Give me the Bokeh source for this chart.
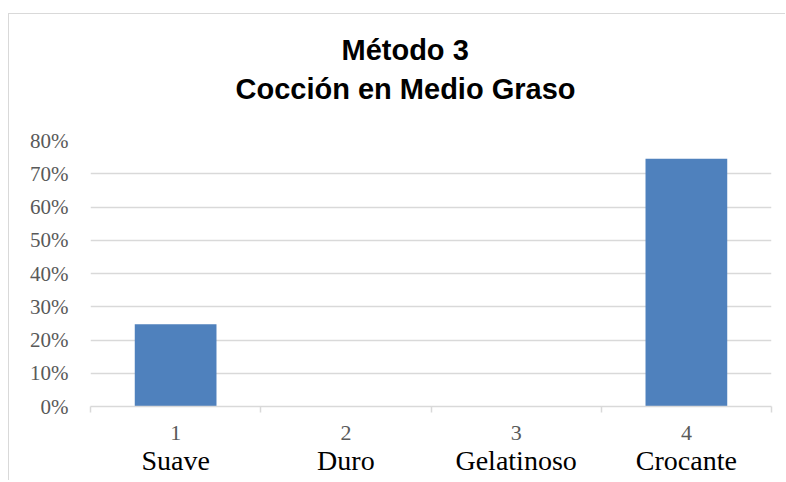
from bokeh.plotting import figure
from bokeh.models import Range1d, FixedTicker, LinearAxis, NumeralTickFormatter, Title, CustomJSTickFormatter
from bokeh.embed import file_html
from bokeh.resources import INLINE

# ---- data ----
codes = ["1", "2", "3", "4"]
names = ["Suave", "Duro", "Gelatinoso", "Crocante"]
values = [0.247, 0.0, 0.0, 0.745]
y_ticks = [0.0, 0.1, 0.2, 0.3, 0.4, 0.5, 0.6, 0.7, 0.8]
title_lines = ["Método 3", "Cocción en Medio Graso"]

BAR = "#4F81BD"
GRID = "#d9d9d9"
GREY = "#595959"
SERIF = "Liberation Serif"
SANS = "Liberation Sans"

n = len(codes)
centers = [i + 0.5 for i in range(n)]
bounds = [float(i) for i in range(n + 1)]

p = figure(width=777, height=467,
           x_range=Range1d(0, n), y_range=Range1d(y_ticks[0], y_ticks[-1]),
           output_backend="svg", toolbar_location=None,
           title=title_lines[0],
           min_border_left=81, min_border_right=15,
           min_border_top=126, min_border_bottom=75)
p.styles = {"border-left": "1px solid #d9d9d9", "border-top": "1px solid #d9d9d9",
            "margin-top": "13px", "margin-left": "8px"}
p.outline_line_color = None
p.background_fill_color = "white"
p.border_fill_color = "white"

# spacer between frame and title block
spacer = Title(text=" ", text_font_size="1px", standoff=31, text_color="white")
p.add_layout(spacer, "above")

# title (two lines)
p.title.text_font = SANS
p.title.text_font_style = "bold"
p.title.text_font_size = "29px"
p.title.text_color = "black"
p.title.align = "left"
p.title.offset = 251
p.title.standoff = 6
t2 = Title(text=title_lines[1], text_font=SANS, text_font_style="bold",
           text_font_size="29px", text_color="black", align="left", offset=145,
           standoff=4)
p.add_layout(t2, "above")

# bars
p.vbar(x=centers, top=values, width=0.48, fill_color=BAR, line_color=None)

# y axis
ya = p.yaxis[0]
ya.ticker = FixedTicker(ticks=y_ticks)
ya.formatter = NumeralTickFormatter(format="0%")
ya.axis_line_color = None
ya.major_tick_line_color = None
ya.minor_tick_line_color = None
ya.major_tick_out = 0
ya.major_tick_in = 0
ya.major_label_standoff = 22
ya.major_label_text_font = SERIF
ya.major_label_text_font_size = "21px"
ya.major_label_text_color = GREY

p.ygrid.grid_line_color = GRID
p.ygrid.grid_line_width = 1.5
p.xgrid.visible = False

# main x axis (category boundaries)
xa = p.xaxis[0]
xa.ticker = FixedTicker(ticks=bounds)
xa.formatter = CustomJSTickFormatter(code="return ''")
xa.axis_line_color = GRID
xa.axis_line_width = 1.5
xa.major_tick_line_color = GRID
xa.major_tick_line_width = 1.5
xa.major_tick_out = 6
xa.major_tick_in = 0
xa.minor_tick_line_color = None
xa.major_label_standoff = 0

# code labels
ax_codes = LinearAxis(ticker=FixedTicker(ticks=centers),
                      major_label_overrides={c: s for c, s in zip(centers, codes)},
                      axis_line_color=None, major_tick_line_color=None,
                      minor_tick_line_color=None, major_tick_out=0, major_tick_in=0,
                      major_label_standoff=13,
                      major_label_text_font=SERIF, major_label_text_font_size="22px",
                      major_label_text_color=GREY)
p.add_layout(ax_codes, "below")

# name labels
ax_names = LinearAxis(ticker=FixedTicker(ticks=centers),
                      major_label_overrides={c: s for c, s in zip(centers, names)},
                      axis_line_color=None, major_tick_line_color=None,
                      minor_tick_line_color=None, major_tick_out=0, major_tick_in=0,
                      major_label_standoff=2,
                      major_label_text_font=SERIF, major_label_text_font_size="28px",
                      major_label_text_color="black")
p.add_layout(ax_names, "below")

open("out.html", "w").write(file_html(p, INLINE))
